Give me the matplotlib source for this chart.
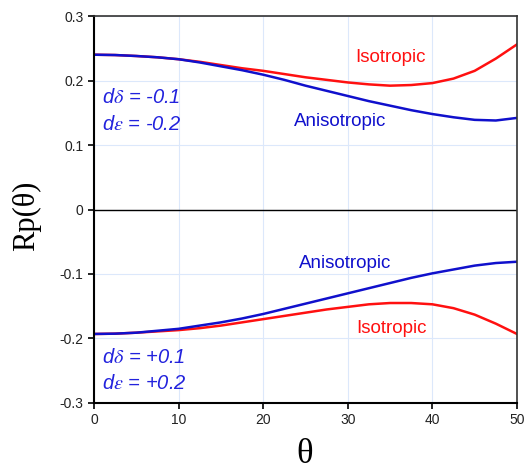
import matplotlib
matplotlib.use("Agg")
import matplotlib.pyplot as plt

plt.rcParams["mathtext.fontset"] = "stix"

theta = [0, 2.5, 5, 7.5, 10, 12.5, 15, 17.5, 20, 22.5, 25, 27.5, 30,
         32.5, 35, 37.5, 40, 42.5, 45, 47.5, 50]
iso_up = [0.240, 0.2395, 0.238, 0.236, 0.233, 0.229, 0.224, 0.219, 0.215, 0.210,
          0.205, 0.201, 0.197, 0.194, 0.192, 0.193, 0.196, 0.203, 0.215, 0.234, 0.256]
aniso_up = [0.240, 0.2395, 0.238, 0.236, 0.233, 0.228, 0.222, 0.216, 0.209, 0.201,
            0.192, 0.184, 0.176, 0.168, 0.161, 0.154, 0.148, 0.143, 0.139, 0.138, 0.142]
aniso_dn = [-0.193, -0.1925, -0.191, -0.188, -0.185, -0.180, -0.175, -0.169, -0.162,
            -0.154, -0.146, -0.138, -0.130, -0.122, -0.114, -0.106, -0.099, -0.093,
            -0.087, -0.083, -0.081]
iso_dn = [-0.193, -0.1925, -0.191, -0.189, -0.187, -0.184, -0.180, -0.175, -0.170,
          -0.165, -0.160, -0.155, -0.151, -0.147, -0.145, -0.145, -0.147, -0.153,
          -0.163, -0.177, -0.193]

xticks = [0, 10, 20, 30, 40, 50]
yticks = [-0.3, -0.2, -0.1, 0, 0.1, 0.2, 0.3]
ytick_labels = ["-0.3", "-0.2", "-0.1", "0", "0.1", "0.2", "0.3"]

RED = "#ff1010"
BLUE = "#1010cc"
TXT_BLUE = "#2222dd"

fig = plt.figure(figsize=(5.24, 4.71), dpi=100)
ax = fig.add_axes([0.1794, 0.1444, 0.8072, 0.8216])
ax.set_xlim(0, 50)
ax.set_ylim(-0.3, 0.3)

ax.set_xticks(xticks)
ax.set_yticks(yticks)
ax.set_yticklabels(ytick_labels)
ax.grid(True, color="#dce8fb", linewidth=0.8)
ax.set_axisbelow(True)
ax.axhline(0, color="black", linewidth=1.0)

ax.plot(theta, iso_up, color=RED, linewidth=1.8)
ax.plot(theta, aniso_up, color=BLUE, linewidth=1.8)
ax.plot(theta, iso_dn, color=RED, linewidth=1.8)
ax.plot(theta, aniso_dn, color=BLUE, linewidth=1.8)

for s in ["left", "bottom"]:
    ax.spines[s].set_linewidth(1.5)
    ax.spines[s].set_color("black")
for s in ["top", "right"]:
    ax.spines[s].set_linewidth(1.2)
    ax.spines[s].set_color("#333333")

ax.tick_params(axis="both", direction="out", length=4, width=1.2,
               labelsize=10, colors="black")
for lab in ax.get_xticklabels() + ax.get_yticklabels():
    lab.set_fontfamily("Liberation Sans")
    lab.set_color("#222222")

lf = dict(fontfamily="Liberation Sans", fontsize=13.5)
ax.text(35.0, 0.236, "Isotropic", color=RED, ha="center", va="center", **lf)
ax.text(29.1, 0.137, "Anisotropic", color=BLUE, ha="center", va="center", **lf)
ax.text(29.7, -0.084, "Anisotropic", color=BLUE, ha="center", va="center", **lf)
ax.text(35.2, -0.185, "Isotropic", color=RED, ha="center", va="center", **lf)

tf = dict(fontfamily=["Liberation Sans", "DejaVu Sans"], fontsize=14.5,
          style="italic", color=TXT_BLUE, ha="left", va="center")
ax.text(1.0, 0.174, r"d$\delta$ = -0.1", **tf)
ax.text(1.0, 0.132, r"d$\varepsilon$ = -0.2", **tf)
ax.text(1.0, -0.229, r"d$\delta$ = +0.1", **tf)
ax.text(1.0, -0.270, r"d$\varepsilon$ = +0.2", **tf)

fig.text(0.0506, 0.5414, "Rp(θ)", rotation=90, fontfamily="Liberation Serif",
         fontsize=22, ha="center", va="center")
fig.text(0.581, 0.036, "θ", fontfamily="Liberation Serif",
         fontsize=25, ha="center", va="center")

fig.savefig("out.png", dpi=100)
